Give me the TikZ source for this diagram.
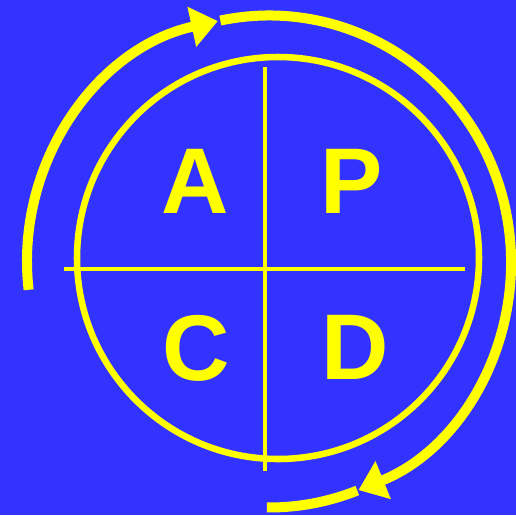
\documentclass[tikz,border=0pt]{standalone}
\usepackage{fontspec}
\setmainfont{Liberation Sans}
\usetikzlibrary{arrows.meta,calc}
\definecolor{pdcablue}{RGB}{51,51,255}
\definecolor{pdcayellow}{RGB}{255,255,0}

\tikzset{every picture/.style={line width=0.75pt}}
\tikzset{
  cyclearc/.style={draw=pdcayellow, line width=7.5pt},
  cyclehead/.style={-{Triangle[length=20pt,width=29.5pt]}},
  crossline/.style={draw=pdcayellow, line width=2.6pt},
  letter/.style={text=pdcayellow, inner sep=0pt, font=\fontsize{70}{70}\selectfont\bfseries},
}

\begin{document}
\begin{tikzpicture}[x=0.75pt,y=0.75pt,yscale=-1,xscale=1]
\useasboundingbox (0,0) rectangle (516,515);
%Shape: Rectangle (background)
\fill[pdcablue] (0,0) rectangle (516,515);

\coordinate (ring) at (269,261.5);
\coordinate (hub) at (278,258);

%Curve Lines: left arc up to the top arrow
\draw[cyclearc, cyclehead] ($(ring)+(173.4:242 and 246)$) arc[start angle=173.4, end angle=257.8, x radius=242, y radius=246];
%Curve Lines: big arc round the right side
\draw[cyclearc, cyclehead] ($(ring)+(258.4:242 and 246)$) arc[start angle=258.4, end angle=428.3, x radius=242, y radius=246];
%Curve Lines: tail after the bottom arrow
\draw[cyclearc] ($(ring)+(68.6:242 and 246)$) arc[start angle=68.6, end angle=90.5, x radius=242, y radius=246];

%Shape: Circle
\draw[pdcayellow, line width=4.9pt] (hub) circle[radius=201];

%Straight Lines
\draw[crossline] (265,67) -- (265,471);
\draw[crossline] (64,269) -- (465,269);

% Text Node
\node[letter] (act) at (195.5,181.5) {A};
% Text Node
\node[letter] (plan) at (352,181.5) {P};
% Text Node
\node[letter] (check) at (196.5,348) {C};
% Text Node
\node[letter] (do) at (355,347.5) {D};

\end{tikzpicture}
\end{document}
